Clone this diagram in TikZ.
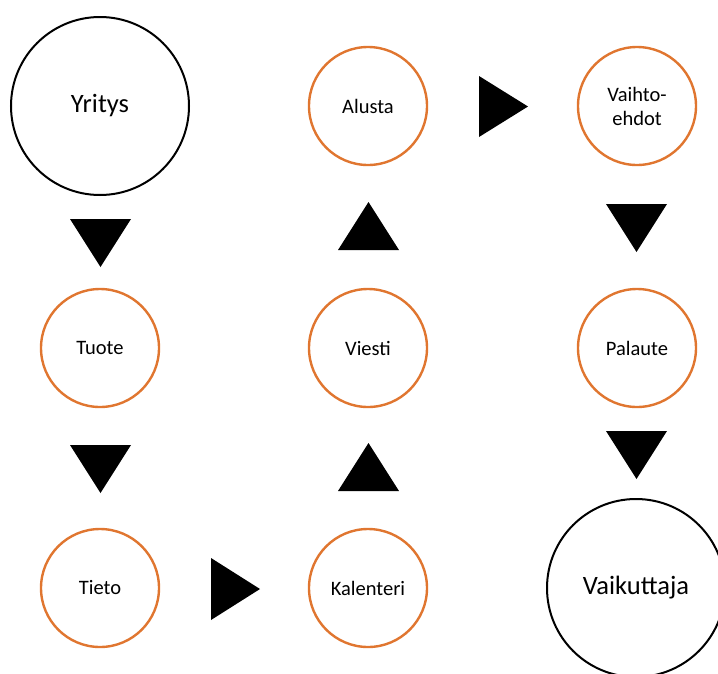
\documentclass[tikz,border=0pt]{standalone}
\usepackage{fontspec}
\setmainfont{Carlito}
\definecolor{ring}{RGB}{224,118,48}
\begin{document}
\begin{tikzpicture}[x=1pt,y=-1pt,
  big/.style={circle,draw=black,line width=2pt,minimum size=178pt,inner sep=0pt,font=\fontsize{26.5}{30}\selectfont},
  small/.style={circle,draw=ring,line width=2.4pt,minimum size=118pt,inner sep=0pt,align=center,font=\fontsize{20.5}{24}\selectfont},
  tri/.style={fill=black}]
\useasboundingbox (0,0) rectangle (718,673);
\node[big] (yritys) at (100,106) {Yritys};
\node[small] (tuote) at (100,348) {Tuote};
\node[small] (tieto) at (100,588) {Tieto};
\node[small] (kalenteri) at (368,588) {Kalenteri};
\node[small] (viesti) at (368,348) {Viesti};
\node[small] (alusta) at (368,106) {Alusta};
\node[small] (vaihto) at (637,106) {Vaihto-\\ehdot};
\node[small] (palaute) at (637,348) {Palaute};
\node[big] (vaikuttaja) at (636,588) {Vaikuttaja};
% down triangles
\fill[tri] (70,219) -- (131,219) -- (100.5,267) -- cycle;
\fill[tri] (70,445) -- (131,445) -- (100.5,493) -- cycle;
\fill[tri] (606,204) -- (667,204) -- (636.5,252) -- cycle;
\fill[tri] (606,431) -- (667,431) -- (636.5,479) -- cycle;
% up triangles
\fill[tri] (338,491) -- (399,491) -- (368.5,443) -- cycle;
\fill[tri] (338,250) -- (399,250) -- (368.5,202) -- cycle;
% right triangles
\fill[tri] (211,558) -- (211,620) -- (260,589) -- cycle;
\fill[tri] (479,76) -- (479,137) -- (528,106.5) -- cycle;
\end{tikzpicture}
\end{document}
